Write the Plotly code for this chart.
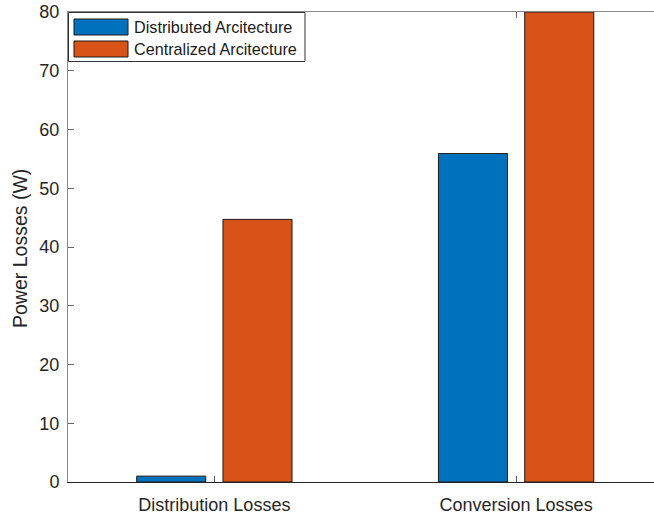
import plotly.graph_objects as go

# Loss breakdown per category (W)
categories = ["Distribution Losses", "Conversion Losses"]
distributed = [1.0, 55.9]
centralized = [44.7, 80.0]
series_names = ["Distributed Arcitecture", "Centralized Arcitecture"]
y_ticks = [0, 10, 20, 30, 40, 50, 60, 70, 80]

BLUE = "#0072BD"
ORANGE = "#D95319"
AX = "#262626"
FONT = "Liberation Sans, Arial, Helvetica, sans-serif"

W, H = 654, 514
ML, MR, MT, MB = 68, 0, 12, 32
PW, PH = W - ML - MR, H - MT - MB


def px(x):
    return (x - ML) / PW


def py(y):
    return 1 - (y - MT) / PH


xpos = [i + 1 for i in range(len(categories))]

fig = go.Figure()
for name, vals, col in [(series_names[0], distributed, BLUE),
                        (series_names[1], centralized, ORANGE)]:
    fig.add_trace(go.Bar(
        x=xpos, y=vals, name=name, marker_color=col,
        marker_line=dict(color="#1a1a1a", width=1), showlegend=False,
    ))

# Top mirror axis carrying the inward ticks
fig.add_trace(go.Scatter(x=[1], y=[0], xaxis="x2", mode="markers",
                         marker=dict(opacity=0), showlegend=False, hoverinfo="skip"))

xr = [0.515, 2.457]
fig.update_layout(
    width=W, height=H, margin=dict(l=ML, r=MR, t=MT, b=MB),
    paper_bgcolor="white", plot_bgcolor="white",
    barmode="group", bargap=0.428, bargroupgap=0.2,
    font=dict(family=FONT, color=AX, size=18),
    xaxis=dict(range=xr, tickvals=xpos, ticktext=categories,
               ticks="inside", ticklen=6, tickcolor="#555", showgrid=False,
               zeroline=False, showline=True, linecolor=AX, linewidth=1,
               ticklabelstandoff=6, tickfont=dict(size=18, color=AX)),
    xaxis2=dict(range=xr, overlaying="x", side="top", tickvals=xpos,
                ticks="inside", ticklen=6, tickcolor="#666", showticklabels=False,
                showgrid=False, zeroline=False, showline=True,
                linecolor="#8a8a8a", linewidth=1),
    yaxis=dict(range=[0, 80], tickvals=y_ticks, ticks="inside", ticklen=6,
               tickcolor="#666", showgrid=False, zeroline=False, showline=True,
               linecolor="#8a8a8a", linewidth=1, ticklabelstandoff=4,
               tickfont=dict(size=18, color=AX)),
)

fig.add_annotation(text="Power Losses (W)", textangle=-90, xref="paper", yref="paper",
                   x=px(20), y=py(249), showarrow=False,
                   font=dict(size=19.5, color=AX, family=FONT),
                   xanchor="center", yanchor="middle")

# Legend drawn as shapes and text
fig.add_shape(type="rect", xref="paper", yref="paper",
              x0=px(68.5), x1=px(305), y0=py(61.5), y1=py(12.5),
              line=dict(color="#333", width=1), fillcolor="white", layer="above")
for i, (name, col) in enumerate([(series_names[0], BLUE), (series_names[1], ORANGE)]):
    top = 19 + 22 * i
    fig.add_shape(type="rect", xref="paper", yref="paper",
                  x0=px(74), x1=px(128), y0=py(top + 16), y1=py(top),
                  line=dict(color="#1a1a1a", width=1), fillcolor=col, layer="above")
    fig.add_annotation(text=name, xref="paper", yref="paper",
                       x=px(132), y=py(top + 8), showarrow=False,
                       xanchor="left", yanchor="middle",
                       font=dict(size=16.2, color="#1a1a1a", family=FONT))

fig.write_html("out.html")
